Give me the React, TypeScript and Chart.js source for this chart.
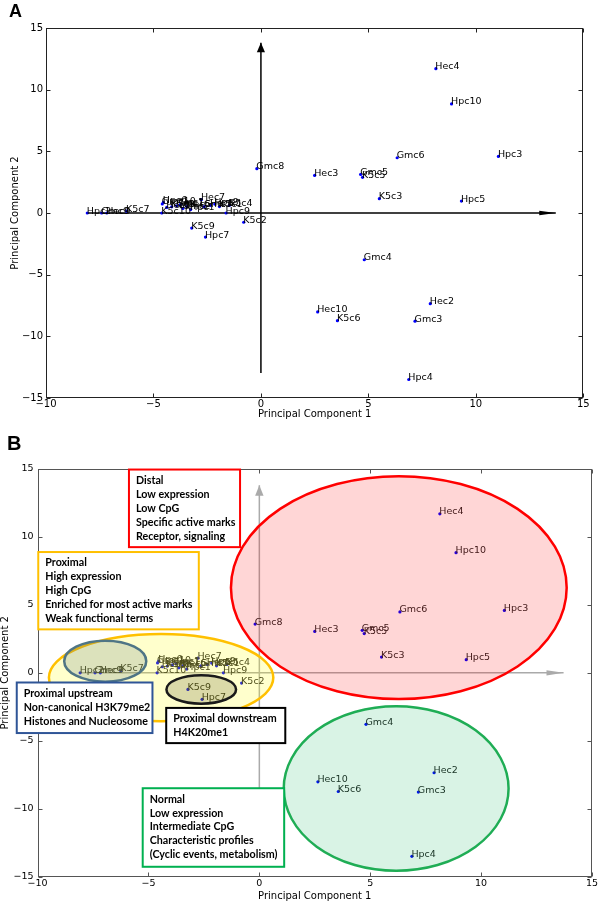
import React, { useEffect, useRef } from 'react';
import { Chart, registerables } from 'chart.js';
Chart.register(...registerables);

// ---- data: sample names and their principal component scores ----
const sampleNames = [
  'Hec4', 'Hpc10', 'Gmc6', 'Hpc3', 'Hec3', 'Gmc5', 'K5c5', 'K5c3', 'Hpc5', 'Gmc8',
  'Gmc4', 'K5c2', 'Hpc9', 'K5c4', 'Hpc7', 'K5c9', 'Hec2', 'Hec10', 'K5c6', 'Gmc3',
  'Hpc4', 'Hpc2', 'Gmc9', 'Hec9', 'K5c7', 'K5c10', 'Hpc6', 'Gmc10', 'Hec8', 'Gmc1',
  'Hec1', 'Gmc2', 'Hec6', 'Hpc1', 'Hec7', 'Gmc7', 'Hec5', 'Hpc8', 'K5c1', 'K5c8',
];
const pc1 = [
  8.14, 8.87, 6.34, 11.05, 2.5, 4.64, 4.73, 5.51, 9.33, -0.19,
  4.81, -0.8, -1.62, -1.46, -2.58, -3.22, 7.88, 2.64, 3.56, 7.17,
  6.88, -8.08, -7.41, -7.17, -6.25, -4.61, -4.54, -4.59, -4.38, -3.92,
  -3.75, -3.63, -3.45, -3.27, -2.77, -2.64, -2.35, -2.15, -1.93, -4.15,
];
const pc2 = [
  11.7, 8.84, 4.48, 4.59, 3.05, 3.13, 2.89, 1.16, 0.97, 3.59,
  -3.79, -0.75, 0.0, 0.62, -1.95, -1.22, -7.35, -8.02, -8.73, -8.77,
  -13.5, 0.0, 0.0, 0.0, 0.15, 0.0, 0.86, 0.73, 0.45, 0.58,
  0.68, 0.37, 0.52, 0.28, 1.08, 0.51, 0.62, 0.72, 0.52, 0.5,
];

// axis arrows (PC directions), data units
const arrowFromX = [-8.06, 0];
const arrowFromY = [0, -12.97];
const arrowToX = [13.72, 0];
const arrowToY = [0, 13.8];

// axis ranges / ticks
const X_MIN = -10, X_MAX = 15, Y_MIN = -15, Y_MAX = 15, TICK_STEP = 5;

// panel B cluster ellipses (data units)
const ellipseCx = [-4.43, -6.95, -2.62, 6.17, 6.29];
const ellipseCy = [-0.35, 0.86, -1.22, -8.51, 6.27];
const ellipseRx = [5.06, 1.85, 1.57, 5.07, 7.57];
const ellipseRy = [3.21, 1.51, 1.05, 6.05, 8.2];

// panel B annotation boxes
const boxLines = [
  ['Distal', 'Low expression', 'Low CpG', 'Specific active marks', 'Receptor, signaling'],
  ['Proximal', 'High expression', 'High CpG', 'Enriched for most active marks', 'Weak functional terms'],
  ['Proximal upstream', 'Non-canonical H3K79me2', 'Histones and Nucleosome'],
  ['Proximal downstream', 'H4K20me1'],
  ['Normal', 'Low expression', 'Intermediate CpG', 'Characteristic profiles', '(Cyclic events, metabolism)'],
];
const boxX0 = [-5.88, -9.97, -10.94, -4.2, -5.26];
const boxY0 = [14.96, 8.89, -0.71, -2.58, -8.49];
const boxX1 = [-0.87, -2.73, -4.82, 1.17, 1.12];
const boxY1 = [9.25, 3.2, -4.43, -5.17, -14.27];

// ---- styles ----
const ELLIPSE_STROKE = ['#ffc000', '#4f7585', '#1a1a1a', '#1fad55', '#ff0000'];
const ELLIPSE_FILL = [
  'rgba(255,255,0,0.2)', 'rgba(80,110,120,0.2)', 'rgba(50,45,0,0.18)',
  'rgba(0,176,80,0.15)', 'rgba(255,0,0,0.16)',
];
const BOX_COLORS = ['#ff0000', '#ffc000', '#2f5597', '#000000', '#00b050'];
const HEAD_LEN = 0.77;
const HEAD_HALF = 0.19;

type PanelCfg = {
  panel: 'A' | 'B';
  top: number;
  height: number;
  padTop: number;
  padRight: number;
  yWidth: number;
  xHeight: number;
  frameColor: string;
  arrowColor: string;
  labelColor: string;
  labelSize: number;
  tickSize: number;
  xTitlePadBottom: number;
  yTitlePadTop: number;
  yTickPad: number;
  xTickPad: number;
  letterSize: number;
  letterX: number;
  letterY: number;
  annotations: boolean;
};

const PANELS: PanelCfg[] = [
  {
    panel: 'A', top: 0, height: 430, padTop: 28, padRight: 16.7, yWidth: 46, xHeight: 32,
    frameColor: '#222', arrowColor: '#000', labelColor: '#000', labelSize: 9.5, tickSize: 10,
    xTitlePadBottom: 11, yTitlePadTop: 10.5, yTickPad: 3, xTickPad: 1,
    letterSize: 18, letterX: 9, letterY: 17, annotations: false,
  },
  {
    panel: 'B', top: 430, height: 472, padTop: 39, padRight: 6.4, yWidth: 37.6, xHeight: 25.3,
    frameColor: '#555', arrowColor: '#aaaaaa', labelColor: '#222', labelSize: 9.5, tickSize: 9.5,
    xTitlePadBottom: 1, yTitlePadTop: 0, yTickPad: 4, xTickPad: 2,
    letterSize: 20, letterX: 7, letterY: 20, annotations: true,
  },
];

const fmt = (v: number) => (v < 0 ? '\u2212' + Math.abs(v) : String(v));

function overlayPlugin(p: PanelCfg) {
  return {
    id: 'overlay' + p.panel,
    afterDatasetsDraw(chart: any) {
      const ctx: CanvasRenderingContext2D = chart.ctx;
      const xs = chart.scales.x;
      const ys = chart.scales.y;
      const X = (v: number) => xs.getPixelForValue(v);
      const Y = (v: number) => ys.getPixelForValue(v);
      ctx.save();

      // point labels
      ctx.font = `${p.labelSize}px "DejaVu Sans"`;
      ctx.fillStyle = p.labelColor;
      ctx.textAlign = 'left';
      ctx.textBaseline = 'alphabetic';
      sampleNames.forEach((n, i) => ctx.fillText(n, X(pc1[i]) - 0.5, Y(pc2[i]) + 0.5));

      // arrow heads
      ctx.fillStyle = p.arrowColor;
      for (let i = 0; i < arrowToX.length; i++) {
        const dx = arrowToX[i] - arrowFromX[i];
        const dy = arrowToY[i] - arrowFromY[i];
        const len = Math.hypot(dx, dy);
        const ux = dx / len, uy = dy / len;
        const bx = arrowToX[i] - ux * HEAD_LEN, by = arrowToY[i] - uy * HEAD_LEN;
        const nx = -uy * HEAD_HALF, ny = ux * HEAD_HALF;
        ctx.beginPath();
        ctx.moveTo(X(arrowToX[i]), Y(arrowToY[i]));
        ctx.lineTo(X(bx + nx), Y(by + ny));
        ctx.lineTo(X(bx - nx), Y(by - ny));
        ctx.closePath();
        ctx.fill();
      }

      // frame + inward ticks
      const ca = chart.chartArea;
      const L = Math.round(ca.left) + 0.5, R = Math.round(ca.right) - 0.5;
      const T = Math.round(ca.top) + 0.5, B = Math.round(ca.bottom) - 0.5;
      ctx.strokeStyle = p.frameColor;
      ctx.lineWidth = 1;
      ctx.strokeRect(L, T, R - L, B - T);
      ctx.beginPath();
      xs.ticks.forEach((t: any) => {
        const px = Math.round(X(t.value)) + 0.5;
        ctx.moveTo(px, B); ctx.lineTo(px, B - 4);
        ctx.moveTo(px, T); ctx.lineTo(px, T + 4);
      });
      ys.ticks.forEach((t: any) => {
        const py = Math.round(Y(t.value)) + 0.5;
        ctx.moveTo(L, py); ctx.lineTo(L + 4, py);
        ctx.moveTo(R, py); ctx.lineTo(R - 4, py);
      });
      ctx.stroke();

      if (p.annotations) {
        // cluster ellipses
        for (let i = 0; i < ellipseCx.length; i++) {
          const cx = X(ellipseCx[i]), cy = Y(ellipseCy[i]);
          const rx = Math.abs(X(ellipseCx[i] + ellipseRx[i]) - cx);
          const ry = Math.abs(Y(ellipseCy[i] + ellipseRy[i]) - cy);
          ctx.beginPath();
          ctx.ellipse(cx, cy, rx, ry, 0, 0, Math.PI * 2);
          ctx.fillStyle = ELLIPSE_FILL[i];
          ctx.fill();
          ctx.lineWidth = 2.5;
          ctx.strokeStyle = ELLIPSE_STROKE[i];
          ctx.stroke();
        }
        // text boxes
        ctx.font = 'bold 10.7px Lato';
        ctx.textBaseline = 'middle';
        ctx.textAlign = 'left';
        for (let i = 0; i < boxLines.length; i++) {
          const x0 = X(boxX0[i]), y0 = Y(boxY0[i]);
          const x1 = X(boxX1[i]), y1 = Y(boxY1[i]);
          ctx.fillStyle = '#ffffff';
          ctx.fillRect(x0, y0, x1 - x0, y1 - y0);
          ctx.lineWidth = 2;
          ctx.strokeStyle = BOX_COLORS[i];
          ctx.strokeRect(x0, y0, x1 - x0, y1 - y0);
          ctx.fillStyle = '#000';
          boxLines[i].forEach((line, k) => ctx.fillText(line, x0 + 7, y0 + 11 + k * 13.9));
        }
      }

      ctx.restore();
    },
    afterDraw(chart: any) {
      const ctx: CanvasRenderingContext2D = chart.ctx;
      ctx.save();
      ctx.font = `bold ${p.letterSize}px "Liberation Sans"`;
      ctx.fillStyle = '#000';
      ctx.textBaseline = 'alphabetic';
      ctx.textAlign = 'left';
      ctx.fillText(p.panel, p.letterX, p.letterY);
      ctx.restore();
    },
  };
}

function Panel({ cfg }: { cfg: PanelCfg }) {
  const ref = useRef<HTMLCanvasElement>(null);
  useEffect(() => {
    if (!ref.current) return;
    const points = sampleNames.map((_, i) => ({ x: pc1[i], y: pc2[i] }));
    const arrowSets = arrowFromX.map((_, i) => ({
      type: 'line' as const,
      data: [
        { x: arrowFromX[i], y: arrowFromY[i] },
        { x: arrowToX[i], y: arrowToY[i] },
      ],
      borderColor: cfg.arrowColor,
      borderWidth: 1.5,
      pointRadius: 0,
      showLine: true,
      fill: false,
      order: 2,
    }));
    const tickFont = { family: 'DejaVu Sans', size: cfg.tickSize, lineHeight: 1 };
    const titleFont = { family: 'DejaVu Sans', size: 10, lineHeight: 1 };
    const chart = new Chart(ref.current, {
      type: 'scatter',
      data: {
        datasets: [
          {
            type: 'scatter',
            data: points,
            pointRadius: 1.6,
            pointBackgroundColor: '#0000ff',
            pointBorderWidth: 0,
            order: 1,
          } as any,
          ...(arrowSets as any[]),
        ],
      },
      options: {
        animation: false,
        responsive: false,
        devicePixelRatio: 1,
        layout: { padding: { top: cfg.padTop, right: cfg.padRight, bottom: 0, left: 0 } },
        plugins: { legend: { display: false }, tooltip: { enabled: false } },
        scales: {
          x: {
            type: 'linear',
            position: 'bottom',
            min: X_MIN,
            max: X_MAX,
            grid: { display: false, drawTicks: false },
            border: { display: false },
            ticks: {
              stepSize: TICK_STEP,
              font: tickFont,
              color: '#000',
              padding: cfg.xTickPad,
              maxRotation: 0,
              callback: (v: any) => fmt(Number(v)),
            },
            title: {
              display: true,
              text: 'Principal Component 1',
              font: titleFont,
              color: '#000',
              padding: { top: 0, bottom: cfg.xTitlePadBottom },
            },
            afterFit: (s: any) => { s.height = cfg.xHeight; },
          },
          y: {
            type: 'linear',
            position: 'left',
            min: Y_MIN,
            max: Y_MAX,
            grid: { display: false, drawTicks: false },
            border: { display: false },
            ticks: {
              stepSize: TICK_STEP,
              font: tickFont,
              color: '#000',
              padding: cfg.yTickPad,
              callback: (v: any) => fmt(Number(v)),
            },
            title: {
              display: true,
              text: 'Principal Component 2',
              font: titleFont,
              color: '#000',
              padding: { top: cfg.yTitlePadTop, bottom: 0 },
            },
            afterFit: (s: any) => { s.width = cfg.yWidth; },
          },
        },
      } as any,
      plugins: [overlayPlugin(cfg)],
    });
    return () => chart.destroy();
  }, [cfg]);
  return (
    <canvas
      ref={ref}
      width={600}
      height={cfg.height}
      style={{ position: 'absolute', left: 0, top: cfg.top, width: 600, height: cfg.height, display: 'block' }}
    />
  );
}

export default function App() {
  return (
    <div style={{ position: 'absolute', left: 0, top: 0, width: 600, height: 902, background: '#fff', overflow: 'hidden' }}>
      {PANELS.map((p) => (
        <Panel key={p.panel} cfg={p} />
      ))}
    </div>
  );
}
